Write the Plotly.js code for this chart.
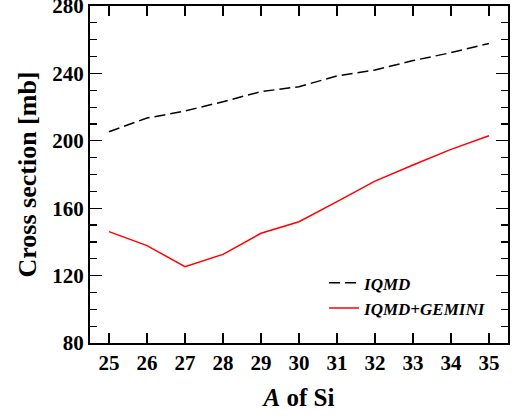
<!DOCTYPE html>
<html><head><meta charset="utf-8">
<script src="https://cdn.plot.ly/plotly-3.0.1.min.js"></script>
<style>
html,body{margin:0;padding:0;background:#fff}
#plot{width:517px;height:416px}
#plot text{font-family:'Liberation Serif',serif !important}
</style>
</head><body><div id="plot"></div>
<script>
const massNumbers = [25, 26, 27, 28, 29, 30, 31, 32, 33, 34, 35];
const iqmd = [205.4, 213.5, 217.7, 223.2, 229.2, 232.1, 238.5, 242.0, 247.6, 252.3, 257.8];
const iqmdGemini = [146.1, 137.8, 125.3, 132.6, 145.1, 152.0, 163.9, 176.1, 185.6, 194.9, 203.0];
const xTickVals = [25, 26, 27, 28, 29, 30, 31, 32, 33, 34, 35];
const yTickVals = [80, 120, 160, 200, 240, 280];

const SERIF = 'Liberation Serif';
const traces = [
  {x: massNumbers, y: iqmd, mode: 'lines', name: '<b><i>IQMD</i></b>',
   line: {color: 'black', width: 1.5, dash: '11px,5px'}},
  {x: massNumbers, y: iqmdGemini, mode: 'lines', name: '<b><i>IQMD+GEMINI</i></b>',
   line: {color: 'red', width: 1.5}}
];
function axisBase() {
  return {
    showline: true, linecolor: 'black', linewidth: 2, mirror: 'allticks',
    ticks: 'inside', tickcolor: 'black', tickwidth: 1.3, showgrid: false, zeroline: false,
    ticklabeloverflow: 'allow',
    tickfont: {family: SERIF, size: 21, color: 'black', weight: 'bold'}
  };
}
const layout = {
  width: 517, height: 416,
  margin: {l: 90, r: 9, t: 6, b: 73},
  paper_bgcolor: 'white', plot_bgcolor: 'white',
  font: {family: SERIF, color: 'black'},
  showlegend: true,
  legend: {x: 0.56, y: 0.14, xanchor: 'left', yanchor: 'middle', bgcolor: 'rgba(0,0,0,0)',
    font: {family: SERIF, size: 17, color: 'black'}, itemwidth: 30, tracegroupgap: 8},
  xaxis: Object.assign(axisBase(), {
    range: [24.5, 35.5], tickvals: xTickVals, ticklen: 10,
    title: {text: '<b><i>A</i> of Si</b>', font: {family: SERIF, size: 25, color: 'black'}, standoff: 14}
  }),
  yaxis: Object.assign(axisBase(), {
    range: [80, 280], tickvals: yTickVals, ticklen: 12,
    minor: {dtick: 10, ticks: 'inside', ticklen: 7, tickcolor: 'black', tickwidth: 1.2},
    title: {text: '<b>Cross section [mb]</b>', font: {family: SERIF, size: 26, color: 'black'}, standoff: 8}
  })
};
Plotly.newPlot('plot', traces, layout, {displayModeBar: false, staticPlot: true});
</script></body></html>
